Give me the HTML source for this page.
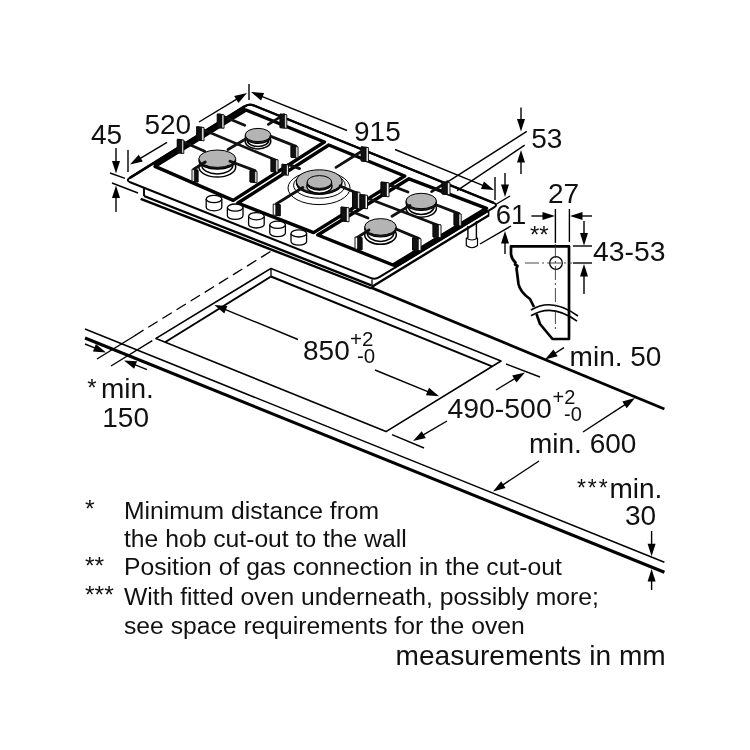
<!DOCTYPE html>
<html><head><meta charset="utf-8"><style>
html,body{margin:0;padding:0;background:#fff;}
body{width:750px;height:750px;overflow:hidden;font-family:"Liberation Sans",sans-serif;}
svg{display:block;filter:grayscale(1)}
svg text{font-family:"Liberation Sans",sans-serif;fill:#111;stroke:none}
</style></head><body>
<svg width="750" height="750" viewBox="0 0 750 750" stroke="#000" fill="none" stroke-linecap="butt" stroke-linejoin="round">
<rect x="0" y="0" width="750" height="750" fill="#fff" stroke="none"/>
<line x1="85.0" y1="329.0" x2="664.4" y2="562.2" stroke-width="1.5" />
<line x1="85.0" y1="338.0" x2="664.4" y2="572.3" stroke-width="3.1" />
<line x1="371.0" y1="287.5" x2="664.4" y2="409.0" stroke-width="2.8" />
<path d="M271.0,268.4 L501.0,361.0 L386.0,431.6 L156.0,338.4 Z" stroke-width="1.6" fill="none" />
<line x1="271.0" y1="268.4" x2="271.0" y2="275.9" stroke-width="1.3" />
<line x1="271.0" y1="276.5" x2="492.0" y2="366.3" stroke-width="1.9" />
<line x1="271.0" y1="276.5" x2="165.0" y2="342.2" stroke-width="1.9" />
<line x1="270.5" y1="251.5" x2="135.0" y2="335.5" stroke-width="1.4" stroke-dasharray="11 5.6"/>
<line x1="136.0" y1="335.0" x2="97.0" y2="359.0" stroke-width="1.4" />
<line x1="152.3" y1="340.7" x2="111.0" y2="366.0" stroke-width="1.4" />
<line x1="85.0" y1="344.0" x2="95.3" y2="348.1" stroke-width="1.4" />
<path d="M106.0,352.4 L92.9,351.5 L95.9,344.0 Z" fill="#000" stroke="none"/>
<line x1="147.0" y1="369.6" x2="134.7" y2="364.7" stroke-width="1.4" />
<path d="M124.0,360.4 L137.1,361.3 L134.1,368.8 Z" fill="#000" stroke="none"/>
<line x1="298.0" y1="339.5" x2="224.9" y2="309.3" stroke-width="1.4" />
<path d="M214.3,304.9 L227.4,306.0 L224.3,313.4 Z" fill="#000" stroke="none"/>
<line x1="375.0" y1="370.0" x2="428.4" y2="391.9" stroke-width="1.4" />
<path d="M439.0,396.3 L425.9,395.2 L429.0,387.8 Z" fill="#000" stroke="none"/>
<line x1="392.0" y1="434.6" x2="424.0" y2="448.0" stroke-width="1.4" />
<line x1="506.0" y1="364.0" x2="540.0" y2="377.0" stroke-width="1.4" />
<line x1="447.0" y1="421.0" x2="422.9" y2="435.2" stroke-width="1.4" />
<path d="M413.0,441.0 L421.7,431.2 L425.8,438.1 Z" fill="#000" stroke="none"/>
<line x1="496.0" y1="390.0" x2="515.2" y2="378.4" stroke-width="1.4" />
<path d="M525.0,372.5 L516.4,382.4 L512.2,375.5 Z" fill="#000" stroke="none"/>
<line x1="564.0" y1="347.6" x2="554.7" y2="353.5" stroke-width="1.4" />
<path d="M545.0,359.6 L553.4,349.5 L557.7,356.3 Z" fill="#000" stroke="none"/>
<line x1="583.0" y1="432.0" x2="625.4" y2="404.3" stroke-width="1.4" />
<path d="M635.0,398.0 L626.7,408.2 L622.3,401.5 Z" fill="#000" stroke="none"/>
<line x1="539.0" y1="461.0" x2="502.6" y2="485.1" stroke-width="1.4" />
<path d="M493.0,491.5 L501.2,481.3 L505.6,487.9 Z" fill="#000" stroke="none"/>
<line x1="651.6" y1="531.0" x2="651.6" y2="544.8" stroke-width="1.4" />
<path d="M651.6,556.3 L647.6,543.8 L655.6,543.8 Z" fill="#000" stroke="none"/>
<line x1="651.6" y1="590.0" x2="651.6" y2="580.5" stroke-width="1.4" />
<path d="M651.6,569.0 L655.6,581.5 L647.6,581.5 Z" fill="#000" stroke="none"/>
<path d="M130.2,182.3 Q125.6,180.4 129.8,177.8 L245.1,106.2 Q249.3,103.6 253.9,105.5 L493.7,202.9 Q498.3,204.8 494.0,207.4 L379.3,277.2 Q375.0,279.8 370.4,277.9 Z" stroke-width="2.0" fill="#fff" />
<path d="M129.9,177.8 L245.0,106.2" stroke-width="2.6" fill="none" />
<path d="M245.0,106.2 Q249.3,103.6 253.9,105.5 L493.7,202.9" stroke-width="2.3" fill="none" />
<line x1="144.0" y1="187.0" x2="144.0" y2="196.0" stroke-width="1.9" />
<line x1="144.0" y1="196.0" x2="371.3" y2="285.3" stroke-width="2.4" />
<line x1="140.7" y1="198.9" x2="371.5" y2="288.5" stroke-width="2.4" />
<line x1="372.0" y1="279.5" x2="372.0" y2="288.0" stroke-width="1.3" />
<line x1="372.0" y1="286.7" x2="488.5" y2="215.5" stroke-width="2.4" />
<line x1="488.6" y1="211.0" x2="488.6" y2="216.5" stroke-width="1.6" />
<path d="M467.9,226 L467.9,238 M476.4,221 L476.4,238" stroke-width="1.4" fill="none" />
<path d="M466.3,238 L466.3,245.5 Q472,250 477.5,245.5 L477.5,238 Q472,242 466.3,238 Z" stroke-width="1.2" fill="#fff" />
<line x1="244.8" y1="107.8" x2="153.8" y2="164.4" stroke-width="2.4" />
<path d="M246.0,110.0 L324.4,142.0 L233.2,200.4 L155.0,166.4 Z" stroke-width="3.4" fill="none" />
<path d="M328.8,145.0 L404.7,176.0 L313.6,232.6 L237.8,203.0 Z" stroke-width="3.4" fill="none" />
<path d="M409.0,178.8 L486.5,208.3 L393.0,265.0 L317.8,235.0 Z" stroke-width="3.4" fill="none" />
<line x1="487.1" y1="209.6" x2="393.6" y2="266.3" stroke-width="5.0" stroke-linecap="butt"/>
<path d="M206.2,199.0 L206.2,207.2 A7.8,3.6 0 0 0 221.8,207.2 L221.8,199.0" stroke-width="1.3" fill="#fff" />
<ellipse cx="214.0" cy="199.0" rx="7.8" ry="3.6" stroke-width="1.3" fill="#fff" />
<path d="M227.4,207.6 L227.4,215.8 A7.8,3.6 0 0 0 243.0,215.8 L243.0,207.6" stroke-width="1.3" fill="#fff" />
<ellipse cx="235.2" cy="207.6" rx="7.8" ry="3.6" stroke-width="1.3" fill="#fff" />
<path d="M248.6,216.2 L248.6,224.4 A7.8,3.6 0 0 0 264.2,224.4 L264.2,216.2" stroke-width="1.3" fill="#fff" />
<ellipse cx="256.4" cy="216.2" rx="7.8" ry="3.6" stroke-width="1.3" fill="#fff" />
<path d="M269.8,224.8 L269.8,233.0 A7.8,3.6 0 0 0 285.4,233.0 L285.4,224.8" stroke-width="1.3" fill="#fff" />
<ellipse cx="277.6" cy="224.8" rx="7.8" ry="3.6" stroke-width="1.3" fill="#fff" />
<path d="M291.0,233.4 L291.0,241.6 A7.8,3.6 0 0 0 306.6,241.6 L306.6,233.4" stroke-width="1.3" fill="#fff" />
<ellipse cx="298.8" cy="233.4" rx="7.8" ry="3.6" stroke-width="1.3" fill="#fff" />
<ellipse cx="258.0" cy="141.3" rx="12.8" ry="7.6" stroke-width="1.5" fill="#fff" />
<ellipse cx="258.0" cy="139.9" rx="10.8" ry="6.6" stroke-width="1.5" fill="#fff" />
<ellipse cx="258.0" cy="136.8" rx="12.8" ry="6.6" stroke-width="1.2" fill="#222" />
<ellipse cx="258.0" cy="135.0" rx="12.8" ry="6.6" stroke-width="1.0" fill="#b4b4b4" />
<ellipse cx="217.3" cy="167.0" rx="18.4" ry="10.0" stroke-width="1.5" fill="#fff" />
<ellipse cx="217.3" cy="165.2" rx="15.5" ry="8.7" stroke-width="1.5" fill="#fff" />
<ellipse cx="217.3" cy="160.5" rx="18.4" ry="8.7" stroke-width="1.2" fill="#222" />
<ellipse cx="217.3" cy="158.7" rx="18.4" ry="8.7" stroke-width="1.0" fill="#b4b4b4" />
<ellipse cx="421.2" cy="208.3" rx="15.2" ry="8.9" stroke-width="1.5" fill="#fff" />
<ellipse cx="421.2" cy="206.8" rx="12.8" ry="7.7" stroke-width="1.5" fill="#fff" />
<ellipse cx="421.2" cy="202.8" rx="15.2" ry="7.7" stroke-width="1.2" fill="#222" />
<ellipse cx="421.2" cy="201.0" rx="15.2" ry="7.7" stroke-width="1.0" fill="#b4b4b4" />
<ellipse cx="380.5" cy="234.8" rx="15.8" ry="9.5" stroke-width="1.5" fill="#fff" />
<ellipse cx="380.5" cy="233.1" rx="13.3" ry="8.3" stroke-width="1.5" fill="#fff" />
<ellipse cx="380.5" cy="228.7" rx="15.8" ry="8.3" stroke-width="1.2" fill="#222" />
<ellipse cx="380.5" cy="226.9" rx="15.8" ry="8.3" stroke-width="1.0" fill="#b4b4b4" />
<ellipse cx="319.0" cy="188.0" rx="31.0" ry="16.6" stroke-width="1.0" fill="none" />
<ellipse cx="319.4" cy="185.2" rx="25.8" ry="13.0" stroke-width="1.0" fill="none" />
<ellipse cx="319.2" cy="183.0" rx="22.8" ry="11.4" stroke-width="1.2" fill="#222" />
<ellipse cx="319.2" cy="181.2" rx="22.8" ry="11.4" stroke-width="1.0" fill="#b4b4b4" />
<ellipse cx="319.4" cy="186.3" rx="12.6" ry="6.8" stroke-width="1.3" fill="#fff" />
<ellipse cx="319.4" cy="183.6" rx="12.3" ry="6.6" stroke-width="1.2" fill="#222" />
<ellipse cx="319.4" cy="182.0" rx="12.3" ry="6.4" stroke-width="1.0" fill="#b4b4b4" />
<line x1="199.0" y1="128.0" x2="276.5" y2="160.4" stroke-width="2.6" stroke="#111" stroke-linecap="round"/>
<line x1="220.0" y1="115.0" x2="244.7" y2="125.3" stroke-width="2.8" stroke="#111" stroke-linecap="round"/>
<line x1="284.0" y1="114.6" x2="268.4" y2="124.4" stroke-width="2.8" stroke="#111" stroke-linecap="round"/>
<line x1="246.0" y1="138.8" x2="228.0" y2="149.5" stroke-width="2.8" stroke="#111" stroke-linecap="round"/>
<line x1="270.8" y1="136.4" x2="296.0" y2="146.4" stroke-width="2.8" stroke="#111" stroke-linecap="round"/>
<line x1="179.5" y1="140.3" x2="204.7" y2="151.3" stroke-width="2.8" stroke="#111" stroke-linecap="round"/>
<line x1="205.3" y1="162.0" x2="193.8" y2="169.3" stroke-width="2.8" stroke="#111" stroke-linecap="round"/>
<line x1="230.0" y1="161.3" x2="255.0" y2="170.6" stroke-width="2.8" stroke="#111" stroke-linecap="round"/>
<path d="M196.7,126.7 L204.0,127.5 L204.0,140.8 L196.7,140.0 Z" stroke-width="1.0" fill="#fff" stroke="#111"/>
<path d="M196.7,126.7 L201.8,127.2 L201.8,140.5 L196.7,140.0 Z" stroke-width="0.6" fill="#111" />
<path d="M271.0,159.0 L278.0,159.8 L278.0,172.3 L271.0,171.5 Z" stroke-width="1.0" fill="#fff" stroke="#111"/>
<path d="M271.0,159.0 L275.9,159.5 L275.9,172.0 L271.0,171.5 Z" stroke-width="0.6" fill="#111" />
<path d="M217.3,114.0 L224.0,114.8 L224.0,128.3 L217.3,127.5 Z" stroke-width="1.0" fill="#fff" stroke="#111"/>
<path d="M217.3,114.0 L222.0,114.5 L222.0,128.0 L217.3,127.5 Z" stroke-width="0.6" fill="#111" />
<path d="M280.0,114.0 L286.8,114.8 L286.8,128.4 L280.0,127.6 Z" stroke-width="1.0" fill="#fff" stroke="#111"/>
<path d="M280.0,114.0 L284.8,114.5 L284.8,128.1 L280.0,127.6 Z" stroke-width="0.6" fill="#111" />
<path d="M291.0,146.0 L298.0,146.8 L298.0,158.0 L291.0,157.2 Z" stroke-width="1.0" fill="#fff" stroke="#111"/>
<path d="M291.0,146.0 L295.9,146.5 L295.9,157.7 L291.0,157.2 Z" stroke-width="0.6" fill="#111" />
<path d="M177.3,139.3 L183.8,140.1 L183.8,153.5 L177.3,152.7 Z" stroke-width="1.0" fill="#fff" stroke="#111"/>
<path d="M177.3,139.3 L181.9,139.8 L181.9,153.2 L177.3,152.7 Z" stroke-width="0.6" fill="#111" />
<path d="M192.0,169.3 L198.0,170.1 L198.0,182.1 L192.0,181.3 Z" stroke-width="1.0" fill="#fff" stroke="#111"/>
<path d="M194.2,169.6 L198.0,170.1 L198.0,182.1 L194.2,181.6 Z" stroke-width="0.6" fill="#111" />
<path d="M250.0,170.6 L257.0,171.4 L257.0,182.8 L250.0,182.0 Z" stroke-width="1.0" fill="#fff" stroke="#111"/>
<path d="M250.0,170.6 L254.9,171.1 L254.9,182.5 L250.0,182.0 Z" stroke-width="0.6" fill="#111" />
<line x1="366.5" y1="148.2" x2="336.0" y2="167.4" stroke-width="2.8" stroke="#111" stroke-linecap="round"/>
<line x1="340.0" y1="186.0" x2="358.0" y2="193.5" stroke-width="2.8" stroke="#111" stroke-linecap="round"/>
<line x1="302.8" y1="187.5" x2="276.5" y2="203.8" stroke-width="2.8" stroke="#111" stroke-linecap="round"/>
<line x1="288.4" y1="164.4" x2="299.6" y2="168.6" stroke-width="2.8" stroke="#111" stroke-linecap="round"/>
<path d="M361.2,146.8 L368.4,147.6 L368.4,161.8 L361.2,161.0 Z" stroke-width="1.0" fill="#fff" stroke="#111"/>
<path d="M361.2,146.8 L366.2,147.3 L366.2,161.5 L361.2,161.0 Z" stroke-width="0.6" fill="#111" />
<path d="M352.5,191.5 L360.0,192.3 L360.0,208.8 L352.5,208.0 Z" stroke-width="1.0" fill="#fff" stroke="#111"/>
<path d="M352.5,191.5 L357.8,192.0 L357.8,208.5 L352.5,208.0 Z" stroke-width="0.6" fill="#111" />
<path d="M273.2,204.0 L280.2,204.8 L280.2,215.8 L273.2,215.0 Z" stroke-width="1.0" fill="#fff" stroke="#111"/>
<path d="M275.7,204.3 L280.2,204.8 L280.2,215.8 L275.7,215.3 Z" stroke-width="0.6" fill="#111" />
<path d="M282.0,164.2 L288.4,165.0 L288.4,175.3 L282.0,174.5 Z" stroke-width="1.0" fill="#fff" stroke="#111"/>
<path d="M282.0,164.2 L286.5,164.7 L286.5,175.0 L282.0,174.5 Z" stroke-width="0.6" fill="#111" />
<line x1="363.0" y1="196.5" x2="438.0" y2="225.2" stroke-width="2.6" stroke="#111" stroke-linecap="round"/>
<line x1="447.5" y1="181.6" x2="431.6" y2="191.6" stroke-width="2.8" stroke="#111" stroke-linecap="round"/>
<line x1="437.2" y1="205.2" x2="459.0" y2="213.6" stroke-width="2.8" stroke="#111" stroke-linecap="round"/>
<line x1="410.0" y1="205.4" x2="392.0" y2="216.3" stroke-width="2.8" stroke="#111" stroke-linecap="round"/>
<line x1="386.0" y1="183.6" x2="408.0" y2="192.0" stroke-width="2.8" stroke="#111" stroke-linecap="round"/>
<line x1="344.0" y1="208.5" x2="368.0" y2="218.0" stroke-width="2.8" stroke="#111" stroke-linecap="round"/>
<line x1="396.0" y1="229.0" x2="419.0" y2="238.6" stroke-width="2.8" stroke="#111" stroke-linecap="round"/>
<line x1="369.0" y1="230.0" x2="357.0" y2="237.6" stroke-width="2.8" stroke="#111" stroke-linecap="round"/>
<path d="M360.0,194.5 L367.5,195.3 L367.5,208.8 L360.0,208.0 Z" stroke-width="1.0" fill="#fff" stroke="#111"/>
<path d="M360.0,194.5 L365.2,195.0 L365.2,208.5 L360.0,208.0 Z" stroke-width="0.6" fill="#111" />
<path d="M433.0,224.0 L441.0,224.8 L441.0,237.8 L433.0,237.0 Z" stroke-width="1.0" fill="#fff" stroke="#111"/>
<path d="M433.0,224.0 L438.6,224.5 L438.6,237.5 L433.0,237.0 Z" stroke-width="0.6" fill="#111" />
<path d="M442.0,182.0 L450.0,182.8 L450.0,194.8 L442.0,194.0 Z" stroke-width="1.0" fill="#fff" stroke="#111"/>
<path d="M442.0,182.0 L447.6,182.5 L447.6,194.5 L442.0,194.0 Z" stroke-width="0.6" fill="#111" />
<path d="M454.0,213.2 L461.2,214.0 L461.2,226.0 L454.0,225.2 Z" stroke-width="1.0" fill="#fff" stroke="#111"/>
<path d="M454.0,213.2 L459.0,213.7 L459.0,225.7 L454.0,225.2 Z" stroke-width="0.6" fill="#111" />
<path d="M381.0,182.0 L389.0,182.8 L389.0,196.8 L381.0,196.0 Z" stroke-width="1.0" fill="#fff" stroke="#111"/>
<path d="M381.0,182.0 L386.6,182.5 L386.6,196.5 L381.0,196.0 Z" stroke-width="0.6" fill="#111" />
<path d="M341.0,207.0 L349.0,207.8 L349.0,221.8 L341.0,221.0 Z" stroke-width="1.0" fill="#fff" stroke="#111"/>
<path d="M341.0,207.0 L346.6,207.5 L346.6,221.5 L341.0,221.0 Z" stroke-width="0.6" fill="#111" />
<path d="M412.5,238.0 L421.0,238.8 L421.0,250.8 L412.5,250.0 Z" stroke-width="1.0" fill="#fff" stroke="#111"/>
<path d="M412.5,238.0 L418.4,238.5 L418.4,250.5 L412.5,250.0 Z" stroke-width="0.6" fill="#111" />
<path d="M355.0,237.0 L362.0,237.8 L362.0,249.8 L355.0,249.0 Z" stroke-width="1.0" fill="#fff" stroke="#111"/>
<path d="M357.5,237.3 L362.0,237.8 L362.0,249.8 L357.5,249.3 Z" stroke-width="0.6" fill="#111" />
<line x1="116.0" y1="148.0" x2="116.0" y2="162.0" stroke-width="1.4" />
<path d="M116.0,173.5 L112.0,161.0 L120.0,161.0 Z" fill="#000" stroke="none"/>
<line x1="116.0" y1="212.0" x2="116.0" y2="197.0" stroke-width="1.4" />
<path d="M116.0,185.5 L120.0,198.0 L112.0,198.0 Z" fill="#000" stroke="none"/>
<line x1="110.0" y1="173.0" x2="125.0" y2="178.4" stroke-width="1.4" />
<line x1="112.0" y1="183.0" x2="138.0" y2="193.0" stroke-width="1.4" />
<line x1="128.0" y1="150.0" x2="128.0" y2="172.0" stroke-width="1.4" />
<line x1="167.0" y1="142.4" x2="139.9" y2="158.6" stroke-width="1.4" />
<path d="M130.0,164.5 L138.7,154.7 L142.8,161.5 Z" fill="#000" stroke="none"/>
<line x1="199.0" y1="122.0" x2="237.2" y2="98.9" stroke-width="1.4" />
<path d="M247.0,93.0 L238.4,102.9 L234.2,96.0 Z" fill="#000" stroke="none"/>
<line x1="249.0" y1="84.0" x2="249.0" y2="100.0" stroke-width="1.4" />
<line x1="347.0" y1="130.5" x2="261.7" y2="96.3" stroke-width="1.4" />
<path d="M251.0,92.0 L264.1,92.9 L261.1,100.4 Z" fill="#000" stroke="none"/>
<line x1="395.0" y1="149.5" x2="483.4" y2="185.6" stroke-width="1.4" />
<path d="M494.0,190.0 L480.9,189.0 L483.9,181.6 Z" fill="#000" stroke="none"/>
<line x1="495.0" y1="177.0" x2="495.0" y2="200.0" stroke-width="1.4" />
<line x1="448.0" y1="181.7" x2="526.8" y2="131.3" stroke-width="1.4" />
<line x1="457.0" y1="190.7" x2="524.7" y2="145.2" stroke-width="1.4" />
<line x1="521.0" y1="107.5" x2="521.0" y2="120.0" stroke-width="1.4" />
<path d="M521.0,131.5 L517.0,119.0 L525.0,119.0 Z" fill="#000" stroke="none"/>
<line x1="521.0" y1="174.0" x2="521.0" y2="161.5" stroke-width="1.4" />
<path d="M521.0,150.0 L525.0,162.5 L517.0,162.5 Z" fill="#000" stroke="none"/>
<line x1="496.5" y1="204.0" x2="510.0" y2="196.0" stroke-width="1.4" />
<line x1="480.0" y1="244.0" x2="511.0" y2="226.0" stroke-width="1.4" />
<line x1="505.0" y1="173.0" x2="505.0" y2="185.5" stroke-width="1.4" />
<path d="M505.0,197.0 L501.0,184.5 L509.0,184.5 Z" fill="#000" stroke="none"/>
<line x1="505.0" y1="254.0" x2="505.0" y2="242.5" stroke-width="1.4" />
<path d="M505.0,231.0 L509.0,243.5 L501.0,243.5 Z" fill="#000" stroke="none"/>
<path d="M536.5,314 L540,324 L552.5,339 L569,339 L569,246.3 L511,246.3 L511,254 Q511.5,259 515.5,262.5 L515,264.5 L517.5,266 L516.5,268.5 L518.5,284 Q520,292 530,299 L534,307" stroke-width="2.7" fill="none" />
<path d="M531,310 Q552,297 578,316" stroke-width="1.6" fill="none" />
<path d="M531,315.8 Q552,302.7 577,321.2" stroke-width="1.6" fill="none" />
<ellipse cx="556.0" cy="263.0" rx="6.3" ry="6.3" stroke-width="1.3" fill="none" />
<line x1="555.4" y1="244.0" x2="555.4" y2="332.0" stroke-width="0.9" stroke="#333" stroke-dasharray="14 3 2 3"/>
<line x1="525.0" y1="263.0" x2="572.0" y2="263.0" stroke-width="0.9" stroke="#333" stroke-dasharray="14 3 2 3"/>
<line x1="555.4" y1="209.0" x2="555.4" y2="243.0" stroke-width="1.4" />
<line x1="569.4" y1="209.0" x2="569.4" y2="242.0" stroke-width="1.4" />
<line x1="531.4" y1="216.0" x2="543.5" y2="216.0" stroke-width="1.4" />
<path d="M555.0,216.0 L542.5,220.0 L542.5,212.0 Z" fill="#000" stroke="none"/>
<line x1="592.0" y1="216.0" x2="581.5" y2="216.0" stroke-width="1.4" />
<path d="M570.0,216.0 L582.5,212.0 L582.5,220.0 Z" fill="#000" stroke="none"/>
<line x1="573.0" y1="246.0" x2="592.0" y2="246.0" stroke-width="1.4" />
<line x1="573.0" y1="263.0" x2="592.0" y2="263.0" stroke-width="1.4" />
<line x1="584.0" y1="221.0" x2="584.0" y2="234.0" stroke-width="1.4" />
<path d="M584.0,245.5 L580.0,233.0 L588.0,233.0 Z" fill="#000" stroke="none"/>
<line x1="584.0" y1="294.0" x2="584.0" y2="275.5" stroke-width="1.4" />
<path d="M584.0,264.0 L588.0,276.5 L580.0,276.5 Z" fill="#000" stroke="none"/>
<text x="91" y="144" font-size="28.0" >45</text>
<text x="144.4" y="134" font-size="28.0" >520</text>
<text x="354" y="141" font-size="28.0" >915</text>
<text x="531.3" y="148" font-size="28.0" >53</text>
<text x="495.8" y="224" font-size="27.5" >61</text>
<text x="548" y="203" font-size="28.0" >27</text>
<text x="593" y="261.3" font-size="28.3" >43-53</text>
<text x="530" y="242.5" font-size="24" >**</text>
<text x="569.6" y="366" font-size="28.0" >min. 50</text>
<text x="303" y="360" font-size="28.0" >850</text>
<text x="350" y="345.8" font-size="20.5" >+2</text>
<text x="357" y="363.4" font-size="20.5" >-0</text>
<text x="447.5" y="417.6" font-size="28.4" >490-500</text>
<text x="552.5" y="404" font-size="20" >+2</text>
<text x="564" y="420.6" font-size="20" >-0</text>
<text x="529" y="453" font-size="28.0" >min. 600</text>
<text x="577" y="495.5" font-size="23" letter-spacing="1.9">***</text>
<text x="609.4" y="498" font-size="28.0" >min.</text>
<text x="625" y="525" font-size="28.0" >30</text>
<text x="87.3" y="396.4" font-size="24" >*</text>
<text x="101" y="398" font-size="28.0" >min.</text>
<text x="102.3" y="427" font-size="28.0" >150</text>
<text x="85" y="517.3" font-size="24.7" >*</text>
<text x="124" y="518.6" font-size="24.7" >Minimum distance from</text>
<text x="124" y="547" font-size="24.7" >the hob cut-out to the wall</text>
<text x="85" y="573.7" font-size="24.7" >**</text>
<text x="124" y="575.1" font-size="24.7" >Position of gas connection in the cut-out</text>
<text x="85" y="603.2" font-size="24.7" >***</text>
<text x="124" y="604.6" font-size="24.7" >With fitted oven underneath, possibly more;</text>
<text x="124" y="633.6" font-size="24.7" >see space requirements for the oven</text>
<text x="395.6" y="664.5" font-size="28.1" >measurements in mm</text>
</svg>
</body></html>
